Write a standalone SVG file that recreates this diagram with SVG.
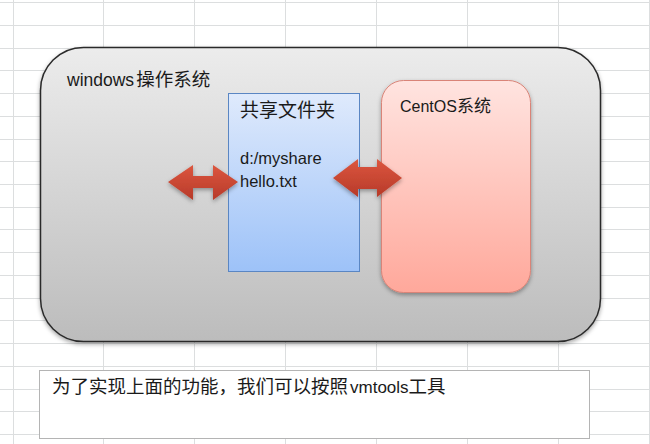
<svg xmlns="http://www.w3.org/2000/svg" width="650" height="444" viewBox="0 0 650 444">
  <defs>
    <linearGradient id="gMain" x1="0" y1="0" x2="0" y2="1">
      <stop offset="0" stop-color="#ececec"/>
      <stop offset="1" stop-color="#bcbcbc"/>
    </linearGradient>
    <linearGradient id="gBlue" x1="0" y1="0" x2="0" y2="1">
      <stop offset="0" stop-color="#dfeafc"/>
      <stop offset="1" stop-color="#9dc2f8"/>
    </linearGradient>
    <linearGradient id="gPink" x1="0" y1="0" x2="0" y2="1">
      <stop offset="0" stop-color="#ffe4e0"/>
      <stop offset="1" stop-color="#ffa89b"/>
    </linearGradient>
    <linearGradient id="gArrow" x1="0" y1="0" x2="0" y2="1">
      <stop offset="0" stop-color="#dc563f"/>
      <stop offset="1" stop-color="#b73a29"/>
    </linearGradient>
    <filter id="shadow" x="-10%" y="-10%" width="120%" height="125%">
      <feDropShadow dx="0" dy="2" stdDeviation="2" flood-color="#000" flood-opacity="0.35"/>
    </filter>
  </defs>
  <style>
    .grid line { stroke: #dcdedf; stroke-width: 1; }
    .lat { font-family: "Liberation Sans", "Noto Sans CJK SC", sans-serif; fill: #1a1a1a; }
    .cjk { font-family: "Noto Sans CJK SC", sans-serif; }
    .arrow { fill: url(#gArrow); filter: url(#shadow); }
  </style>
  <rect x="0" y="0" width="650" height="444" fill="#ffffff"/>
  <g class="grid">
    <line x1="13.5" y1="0" x2="13.5" y2="444"/>
    <line x1="103.5" y1="0" x2="103.5" y2="444"/>
    <line x1="194.5" y1="0" x2="194.5" y2="444"/>
    <line x1="285.5" y1="0" x2="285.5" y2="444"/>
    <line x1="376.5" y1="0" x2="376.5" y2="444"/>
    <line x1="467.5" y1="0" x2="467.5" y2="444"/>
    <line x1="558.5" y1="0" x2="558.5" y2="444"/>
    <line x1="649.5" y1="0" x2="649.5" y2="444"/>
    <line x1="0" y1="2.5" x2="650" y2="2.5"/>
    <line x1="0" y1="25.5" x2="650" y2="25.5"/>
    <line x1="0" y1="48.5" x2="650" y2="48.5"/>
    <line x1="0" y1="70.5" x2="650" y2="70.5"/>
    <line x1="0" y1="93.5" x2="650" y2="93.5"/>
    <line x1="0" y1="116.5" x2="650" y2="116.5"/>
    <line x1="0" y1="139.5" x2="650" y2="139.5"/>
    <line x1="0" y1="161.5" x2="650" y2="161.5"/>
    <line x1="0" y1="184.5" x2="650" y2="184.5"/>
    <line x1="0" y1="207.5" x2="650" y2="207.5"/>
    <line x1="0" y1="229.5" x2="650" y2="229.5"/>
    <line x1="0" y1="252.5" x2="650" y2="252.5"/>
    <line x1="0" y1="275.5" x2="650" y2="275.5"/>
    <line x1="0" y1="298.5" x2="650" y2="298.5"/>
    <line x1="0" y1="320.5" x2="650" y2="320.5"/>
    <line x1="0" y1="343.5" x2="650" y2="343.5"/>
    <line x1="0" y1="366.5" x2="650" y2="366.5"/>
    <line x1="0" y1="389.5" x2="650" y2="389.5"/>
    <line x1="0" y1="411.5" x2="650" y2="411.5"/>
    <line x1="0" y1="434.5" x2="650" y2="434.5"/>
  </g>

  <g id="windows">
    <rect x="40.5" y="47.5" width="560" height="294" rx="43" ry="43" fill="url(#gMain)" stroke="#2b2b2b" stroke-width="1.5" filter="url(#shadow)"/>
    <text class="lat" x="67" y="86" font-size="17.5">windows<tspan class="cjk" dx="2" font-size="18.5">操作系统</tspan></text>
  </g>

  <g id="shared-folder">
    <rect x="228.5" y="93.5" width="131" height="178" fill="url(#gBlue)" stroke="#5a86c3" stroke-width="1"/>
    <text class="lat cjk" x="240" y="117" font-size="19">共享文件夹</text>
    <text class="lat" x="240" y="164" font-size="16.5">d:/myshare</text>
    <text class="lat" x="240" y="187" font-size="16.5">hello.txt</text>
  </g>

  <g id="centos">
    <rect x="381.5" y="80.5" width="149" height="212" rx="22" ry="22" fill="url(#gPink)" stroke="#d98478" stroke-width="1" filter="url(#shadow)"/>
    <text class="lat" x="400" y="112" font-size="16">CentOS<tspan class="cjk" font-size="17">系统</tspan></text>
  </g>

  <g id="connectors">
    <path class="arrow" d="M168,182 L193,165 L193,176 L213,176 L213,165 L238,182 L213,200 L213,188 L193,188 L193,200 Z"/>
    <path class="arrow" d="M333,178 L358,159 L358,167 L377,167 L377,159 L402,178 L377,197 L377,189 L358,189 L358,197 Z"/>
  </g>

  <g id="note">
    <rect x="39.5" y="370.5" width="550" height="68" fill="#ffffff" stroke="#b4b4b4" stroke-width="1"/>
    <text class="lat" x="52" y="393" font-size="18.5"><tspan class="cjk">为了实现上面的功能，我们可以按照</tspan><tspan dx="2" font-size="17">vmtools</tspan><tspan class="cjk">工具</tspan></text>
  </g>
</svg>
